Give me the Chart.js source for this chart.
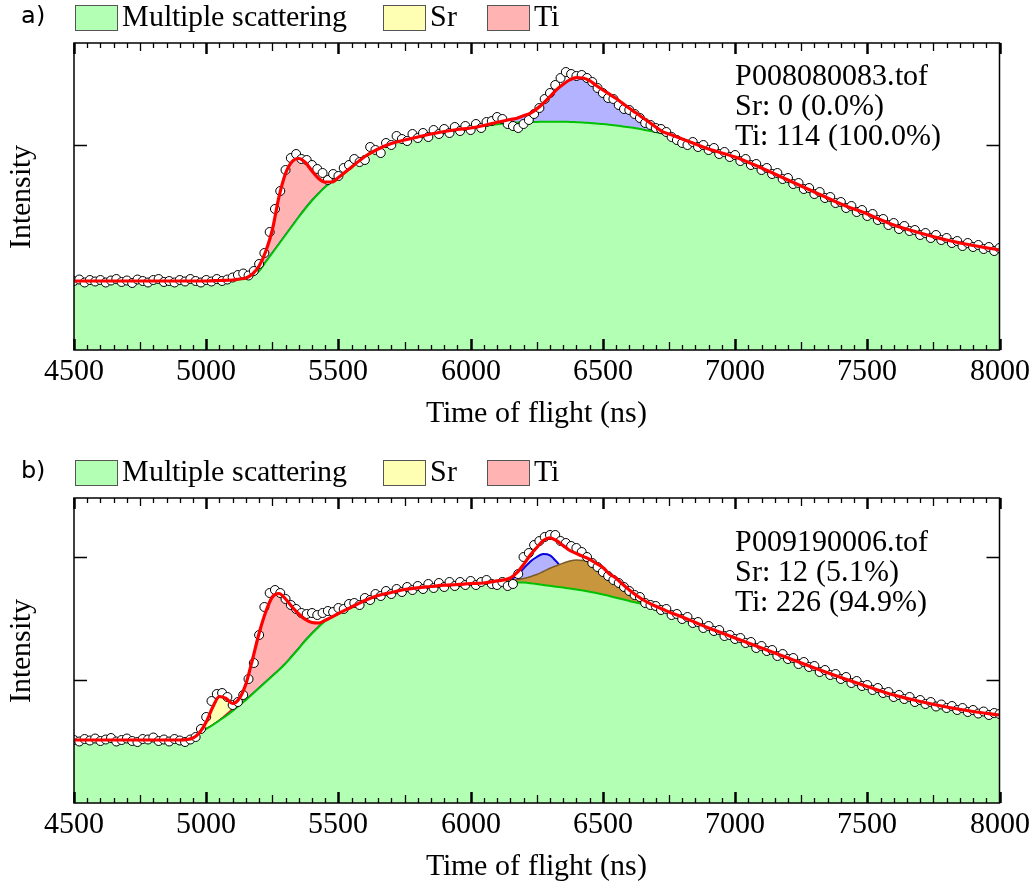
<!DOCTYPE html>
<html>
<head>
<meta charset="utf-8">
<script src="https://cdn.jsdelivr.net/npm/chart.js@4/dist/chart.umd.min.js"></script>
<style>
  @font-face { font-family: 'PlotSerif'; src: local('Liberation Serif'), local('LiberationSerif-Regular'), local('LiberationSerif'); }
  @font-face { font-family: 'PlotSans'; src: local('DejaVu Sans'), local('DejaVuSans'); }
  body { margin: 0; background: #fff; width: 1036px; height: 890px; overflow: hidden; position: relative; }
  .panel { position: absolute; left: 0; width: 1036px; }
  .warm { position: absolute; left: -999px; top: 0; }
</style>
</head>
<body>
<span class="warm" style="font-family:PlotSerif">Time of flight</span>
<span class="warm" style="font-family:PlotSans">a)</span>
<div class="panel" style="top:0;height:445px"><canvas id="chartA" width="1036" height="445"></canvas></div>
<div class="panel" style="top:455px;height:435px"><canvas id="chartB" width="1036" height="435"></canvas></div>
<script>
// ---- panel a: fitted curves (time of flight in ns, intensity in counts) ----
var tofA = [4500, 4600, 4700, 4800, 4900, 5000, 5050, 5100, 5125, 5150, 5175, 5200, 5225, 5250, 5275,
  5300, 5325, 5350, 5375, 5400, 5425, 5450, 5475, 5500, 5550, 5600, 5650, 5700, 5750, 5800, 5850, 5900,
  5950, 6000, 6050, 6100, 6150, 6175, 6200, 6225, 6250, 6275, 6300, 6325, 6350, 6375, 6400, 6425, 6450,
  6475, 6500, 6525, 6550, 6575, 6600, 6625, 6650, 6675, 6700, 6725, 6750, 6800, 6850, 6900, 7000, 7100,
  7200, 7300, 7400, 7500, 7600, 7700, 7800, 7900, 8000];
var msA = [69, 69, 69, 69, 69, 69, 69.5, 70, 70.5, 71.5, 74, 79, 88, 97, 106,
  115, 124, 133, 141.5, 149.5, 156.5, 163, 168, 172.5, 183, 193.5, 201, 206.5, 210, 213, 216, 218.5,
  220.5, 222, 224, 225.8, 227, 227.4, 227.7, 228, 228.1, 228.2, 228.3, 228.3, 228.3, 228.1, 227.8, 227.5, 227,
  226.5, 226, 225.3, 224.5, 223.6, 222.7, 221.7, 220.5, 219.3, 218, 216.5, 215, 211, 206, 201, 193, 182,
  170, 158, 146, 136, 125, 117, 110, 104.5, 100];
// component heights above the multiple scattering background, [tof, counts]
var tiA = [[5125, 0.5], [5150, 0.5], [5175, 2], [5200, 5], [5225, 10.5], [5250, 23], [5275, 47], [5300, 61.5],
  [5325, 64.5], [5350, 58.5], [5375, 46], [5400, 29.5], [5425, 15], [5450, 5]];
var deepA = [[6050, 0.5], [6100, 2], [6150, 3.5], [6175, 4.4], [6200, 6.5], [6225, 8.7], [6250, 13], [6275, 18.5],
  [6300, 25], [6325, 32], [6350, 37.5], [6375, 42], [6400, 44.5], [6425, 44.5], [6450, 42.3], [6475, 38],
  [6500, 34], [6525, 30.5], [6550, 27], [6575, 23], [6600, 19], [6625, 15.5], [6650, 12], [6675, 8.5],
  [6700, 5], [6725, 1.8], [6750, 1]];
// measured spectrum, one channel every 20 ns from 4500 ns
var countsA = [
  69, 70.5, 67.5, 70, 68.5, 70, 67.5, 69.5, 71, 68,
  69.5, 67, 70.5, 69, 67.5, 70, 71, 68, 69, 67.5,
  70, 68.5, 71, 69, 67.5, 70, 68.5, 71, 69, 70.5,
  72.5, 75, 76.5, 74.5, 79, 86, 97, 118, 141, 159,
  180, 192, 196, 191, 190, 185, 181, 177, 170, 176,
  174, 182, 185, 191, 188, 190, 203, 200, 197, 207,
  205, 214, 211, 209, 216, 212, 217, 213, 220, 216,
  221, 217, 223, 219, 224, 220, 226, 222, 228, 229,
  233, 231, 226, 224, 222, 226, 230, 236, 242, 251,
  257, 265, 272, 278, 276, 274, 275, 272, 268, 262,
  257, 252, 251, 245, 241, 240, 236, 232, 227, 225,
  222, 221, 218, 213, 210, 207, 205, 208, 203, 205,
  200, 202, 196, 198, 193, 195, 189, 191, 185, 186,
  180, 182, 176, 177, 171, 172, 166, 167, 161, 162,
  156, 158, 152, 153, 147, 148, 142, 144, 138, 140,
  134, 136, 130, 131, 125, 127, 121, 124, 119, 120,
  115, 117, 112, 115, 110, 112, 107, 109, 104, 107,
  103, 105, 101, 103, 99, 102];
var infoA = ['P008080083.tof', 'Sr: 0 (0.0%)', 'Ti: 114 (100.0%)'];

// ---- panel b ----
var tofB = [4500, 4600, 4700, 4800, 4900, 4950, 4975, 5000, 5025, 5050, 5075, 5100, 5125, 5150, 5175,
  5200, 5225, 5250, 5275, 5300, 5325, 5350, 5375, 5400, 5425, 5450, 5475, 5500, 5550, 5600, 5650, 5700,
  5750, 5800, 5850, 5900, 5950, 6000, 6050, 6100, 6150, 6175, 6200, 6225, 6250, 6275, 6300, 6325, 6350,
  6375, 6400, 6425, 6450, 6475, 6500, 6525, 6550, 6575, 6600, 6625, 6650, 6675, 6700, 6725, 6750, 6800,
  6850, 6900, 6950, 7000, 7100, 7200, 7300, 7400, 7500, 7600, 7700, 7800, 7900, 8000];
var msB = [63, 63, 63, 63, 63, 65, 70, 74, 78, 82.5, 87, 92, 97.5, 103, 109,
  115, 121, 127, 133, 139.5, 147, 154.5, 162.5, 169.5, 176, 182, 186, 189.5, 196, 202.5, 207.5, 210.5,
  213.5, 215.2, 216.5, 217.8, 218.5, 219.5, 220, 220.6, 221, 220.8, 220.4, 219.8, 219, 218, 217.2, 216.3, 215.4,
  214.5, 213.5, 212.4, 211.2, 209.9, 208.5, 207, 205.3, 203.7, 202, 200.5, 199, 197.3, 195.5, 193.5, 191, 186,
  180.5, 175, 170, 165, 155, 145, 135, 125.5, 116.5, 108, 101.5, 96, 91.5, 88];
var srB = [[4975, 0.5], [5000, 7], [5025, 18], [5050, 23.5], [5075, 16], [5100, 5], [5125, 1]];
var tiB = [[5050, 0.5], [5075, 1.5], [5100, 2.5], [5125, 6], [5150, 16], [5175, 34.5], [5200, 54.7], [5225, 70],
  [5250, 79], [5275, 76.5], [5300, 64.5], [5325, 49], [5350, 34.5], [5375, 21], [5400, 11], [5425, 4], [5450, 0.7]];
var deepB = [[6100, 0.5], [6150, 2.5], [6175, 7], [6200, 14], [6225, 21.5], [6250, 27], [6275, 31], [6300, 30.5],
  [6325, 25], [6350, 17.5], [6375, 10.5], [6400, 6.5], [6425, 4], [6450, 2.5], [6475, 1.2], [6500, 0.5]];
var mixB = [[6100, 1], [6150, 1.5], [6175, 2.5], [6200, 4], [6225, 6.5], [6250, 9.5], [6275, 13.5], [6300, 17.5],
  [6325, 21], [6350, 24.5], [6375, 27.5], [6400, 29.5], [6425, 30.2], [6450, 30], [6475, 28.5], [6500, 26.5],
  [6525, 22], [6550, 19.5], [6575, 15], [6600, 11], [6625, 7.5], [6650, 4.5], [6675, 2.5], [6700, 1.2], [6725, 0.5]];
var countsB = [
  63, 61.5, 64, 62.5, 64.5, 62, 63.5, 65, 61.5, 63,
  64.5, 62, 61, 64, 63.5, 65.5, 62, 63.5, 61.5, 64,
  62.5, 61, 63.5, 66, 74, 86, 102, 109, 110, 106,
  98, 101, 108, 124, 140, 168, 196, 210, 213, 210,
  204, 198, 194, 190, 189, 190, 188, 190, 192, 191,
  195, 194, 199, 200, 198, 205, 203, 209, 207, 212,
  209, 214, 211, 216, 213, 217, 214, 219, 215, 220,
  216, 221, 217, 221, 218, 222, 218, 221, 223, 219,
  218, 221, 217, 219, 229, 246, 250, 258, 262, 266,
  268, 268, 262, 260, 257, 255, 251, 246, 240, 236,
  231, 227, 223, 220, 216, 212, 208, 206, 200, 198,
  197, 193, 194, 188, 189, 184, 186, 180, 181, 175,
  177, 172, 173, 167, 168, 164, 165, 160, 161, 155,
  157, 152, 153, 147, 149, 144, 145, 139, 141, 136,
  137, 131, 133, 128, 129, 124, 126, 120, 122, 117,
  118, 113, 115, 110, 111, 106, 108, 104, 106, 101,
  103, 99, 101, 96.5, 98.5, 95, 97, 93, 95, 91,
  93, 89.5, 91.5, 88, 90, 89];
var infoB = ['P009190006.tof', 'Sr: 12 (5.1%)', 'Ti: 226 (94.9%)'];

var legendLabels = ['Multiple scattering', 'Sr', 'Ti'];
var legendColors = ['#b3ffb3', '#ffffb3', '#ffb3b3'];
var legendBoxX = [75, 383, 487];

const serif = 'PlotSerif, "Liberation Serif", "DejaVu Serif", serif';
const sans = 'PlotSans, "DejaVu Sans", sans-serif';
const fontMain = { family: serif, size: 30 };

function at(pairs, t) {
    const p = pairs.find(q => q[0] === t);
    return p ? p[1] : 0;
}

function buildDatasets(tof, ms, comps, counts) {
    const sets = [];
    const fit = tof.map((t, i) => ms[i] + comps.reduce((s, c) => s + at(c.pairs, t), 0));
    sets.push({
        data: tof.map((t, i) => ({ x: t, y: fit[i] })),
        borderColor: '#ff0000', borderWidth: 3.2, pointRadius: 0, fill: false,
        cubicInterpolationMode: 'monotone', order: 1
    });
    sets.push({
        data: counts.map((v, i) => ({ x: 4500 + 20 * i, y: v })),
        showLine: false, pointRadius: 4.5, pointBackgroundColor: '#fff',
        pointBorderColor: '#000', pointBorderWidth: 1, order: 2
    });
    sets.push({
        data: tof.map((t, i) => ({ x: t, y: ms[i] })),
        borderColor: '#00c000', borderWidth: 2, backgroundColor: '#b3ffb3', fill: 'origin',
        pointRadius: 0, cubicInterpolationMode: 'monotone', order: 3
    });
    comps.forEach(c => {
        sets.push({
            data: tof.map((t, i) => ({ x: t, y: ms[i] + at(c.pairs, t) })),
            borderColor: c.line, borderWidth: c.width, backgroundColor: c.fill, fill: 'origin',
            pointRadius: 0, cubicInterpolationMode: 'monotone', order: c.order
        });
    });
    return sets;
}

function decor(panel) {
    return {
        id: 'decor',
        afterDatasetsDraw(chart) {
            const { ctx, chartArea: a, scales: { x, y } } = chart;
            ctx.save();
            ctx.strokeStyle = '#000';
            // inward ticks on bottom and top
            for (let t = x.min; t <= x.max; t += 50) {
                const px = Math.round(x.getPixelForValue(t)) + 0.5;
                const major = t % 500 === 0, mid = t % 250 === 0;
                const len = major ? 11 : (mid ? 8 : 5);
                ctx.lineWidth = major ? 2.5 : 1.3;
                ctx.beginPath();
                ctx.moveTo(px, a.bottom); ctx.lineTo(px, a.bottom - len);
                ctx.moveTo(px, a.top); ctx.lineTo(px, a.top + len);
                ctx.stroke();
            }
            ctx.lineWidth = 1.3;
            panel.yTicks.forEach(v => {
                const py = Math.round(y.getPixelForValue(v)) + 0.5;
                ctx.beginPath();
                ctx.moveTo(a.left, py); ctx.lineTo(a.left + 13, py);
                ctx.moveTo(a.right, py); ctx.lineTo(a.right - 13, py);
                ctx.stroke();
            });
            ctx.lineWidth = 1.5;
            ctx.strokeRect(a.left, a.top, a.right - a.left, a.bottom - a.top);

            ctx.fillStyle = '#000';
            ctx.font = '30px ' + serif;
            ctx.textAlign = 'left';
            ctx.textBaseline = 'alphabetic';
            panel.info.forEach((s, i) => ctx.fillText(s, 735, panel.infoY + i * 30));
            ctx.restore();
        },
        afterDraw(chart) {
            const ctx = chart.ctx;
            ctx.save();
            ctx.fillStyle = '#000';
            ctx.textBaseline = 'middle';
            ctx.font = '24px ' + sans;
            ctx.fillText(panel.tag, 21, 17);
            ctx.font = '30px ' + serif;
            legendLabels.forEach((label, i) => {
                const lx = legendBoxX[i];
                ctx.fillStyle = legendColors[i];
                ctx.fillRect(lx, 5, 42, 25);
                ctx.strokeStyle = '#555';
                ctx.lineWidth = 1;
                ctx.strokeRect(lx + 0.5, 5.5, 42, 25);
                ctx.fillStyle = '#000';
                ctx.fillText(label, lx + 47, 18);
            });
            ctx.restore();
        }
    };
}

function makeChart(id, panel) {
    return new Chart(document.getElementById(id), {
        type: 'line',
        data: { datasets: panel.datasets },
        options: {
            responsive: false,
            animation: false,
            events: [],
            layout: { padding: { top: 43, right: 36.5, left: 0, bottom: 0 } },
            plugins: { legend: { display: false }, tooltip: { enabled: false } },
            scales: {
                x: {
                    type: 'linear', min: 4500, max: 8000,
                    afterFit: s => { s.height = panel.xAxisHeight; },
                    grid: { display: false, drawTicks: false },
                    border: { display: false },
                    ticks: {
                        stepSize: 500, font: fontMain, color: '#000', padding: 4.5,
                        maxRotation: 0, autoSkip: false, callback: v => String(v)
                    },
                    title: {
                        display: true, text: 'Time of flight (ns)', font: fontMain, color: '#000',
                        padding: { top: 0, bottom: panel.titlePad }
                    }
                },
                y: {
                    min: 0, max: panel.yMax,
                    afterFit: s => { s.width = 74; },
                    ticks: { display: false },
                    grid: { display: false, drawTicks: false },
                    border: { display: false },
                    title: {
                        display: true, text: 'Intensity', font: fontMain, color: '#000',
                        padding: { top: 4, bottom: 0 }
                    }
                }
            }
        },
        plugins: [decor(panel)]
    });
}

function drawAll() {
    makeChart('chartA', {
        tag: 'a)', info: infoA, infoY: 85, yTicks: [205], yMax: 307, xAxisHeight: 95, titlePad: 13,
        datasets: buildDatasets(tofA, msA, [
            { pairs: tiA, fill: '#ffb3b3', line: 'rgba(230,0,0,0.9)', width: 1.5, order: 6 },
            { pairs: deepA, fill: '#b3b3ff', line: '#0000e0', width: 2, order: 5 }
        ], countsA)
    });

    makeChart('chartB', {
        tag: 'b)', info: infoB, infoY: 96, yTicks: [123, 246], yMax: 305, xAxisHeight: 87, titlePad: 5,
        datasets: buildDatasets(tofB, msB, [
            { pairs: srB, fill: '#ffffb3', line: 'rgba(0,0,0,0)', width: 1, order: 7 },
            { pairs: tiB, fill: '#ffb3b3', line: 'rgba(230,0,0,0.9)', width: 1.5, order: 6 },
            { pairs: deepB, fill: '#b3b3ff', line: '#0000e0', width: 2, order: 5 },
            { pairs: mixB, fill: '#c8963c', line: '#7a5a28', width: 1.5, order: 4 }
        ], countsB)
    });
}

var started = false;
function start() { if (!started) { started = true; drawAll(); } }
Promise.all([document.fonts.load('30px PlotSerif'), document.fonts.load('24px PlotSans')])
    .then(start, start);
setTimeout(start, 1500);
</script>
</body>
</html>
